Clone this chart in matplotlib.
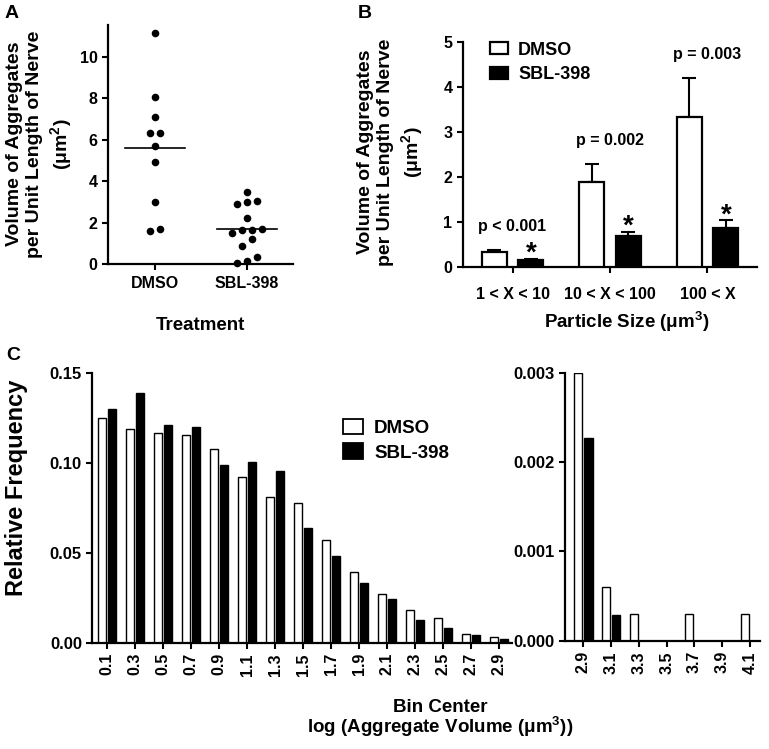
import numpy as np
import matplotlib
matplotlib.use('Agg')
import matplotlib.pyplot as plt
from matplotlib.patches import Patch

# ---------------- data ----------------
# Panel A
groups_a = ['DMSO', 'SBL-398']
dmso_vals = [11.14, 8.08, 7.08, 6.31, 6.33, 5.72, 4.93, 3.01, 1.60, 1.70]
sbl_vals = [3.46, 3.04, 2.90, 3.01, 2.24, 1.64, 1.51, 1.64, 1.69, 1.19, 0.87, 0.32, 0.06, 0.13]

# Panel B
size_cats = ['1 < X < 10', '10 < X < 100', '100 < X']
dmso_mean = [0.35, 1.90, 3.34]
dmso_sem = [0.03, 0.39, 0.85]
sbl_mean = [0.17, 0.69, 0.86]
sbl_sem = [0.02, 0.10, 0.19]
p_labels = ['p < 0.001', 'p = 0.002', 'p = 0.003']

# Panel C (left)
bins_left = ['0.1', '0.3', '0.5', '0.7', '0.9', '1.1', '1.3', '1.5', '1.7', '1.9',
             '2.1', '2.3', '2.5', '2.7', '2.9']
dmso_freq_left = [0.1250, 0.1190, 0.1167, 0.1152, 0.1074, 0.0920, 0.0810, 0.0777,
                  0.0572, 0.0394, 0.0268, 0.0184, 0.0136, 0.0050, 0.0030]
sbl_freq_left = [0.1300, 0.1390, 0.1210, 0.1197, 0.0989, 0.1006, 0.0953, 0.0638,
                 0.0480, 0.0333, 0.0243, 0.0125, 0.0082, 0.0041, 0.0022]
# Panel C (right)
bins_right = ['2.9', '3.1', '3.3', '3.5', '3.7', '3.9', '4.1']
dmso_freq_right = [0.00300, 0.00060, 0.00030, 0.0, 0.00030, 0.0, 0.00030]
sbl_freq_right = [0.00227, 0.00029, 0.0, 0.0, 0.0, 0.0, 0.0]

# ---------------- style ----------------
plt.rcParams['font.family'] = ['Liberation Sans', 'DejaVu Sans']
plt.rcParams['font.weight'] = 'bold'
plt.rcParams['axes.labelweight'] = 'bold'
plt.rcParams['mathtext.fontset'] = 'custom'
plt.rcParams['mathtext.rm'] = 'Liberation Sans:bold'
plt.rcParams['mathtext.bf'] = 'Liberation Sans:bold'
plt.rcParams['mathtext.it'] = 'Liberation Sans:bold'
plt.rcParams['mathtext.default'] = 'rm'

W, H = 769, 749
fig = plt.figure(figsize=(W / 100, H / 100), dpi=100)


def ax_px(l, t, r, b):
    return fig.add_axes([l / W, 1 - b / H, (r - l) / W, (b - t) / H])


def style(ax, fs=11.5):
    for s in ['top', 'right']:
        ax.spines[s].set_visible(False)
    for s in ['left', 'bottom']:
        ax.spines[s].set_linewidth(1.6)
    ax.tick_params(direction='out', length=4.5, width=1.5, labelsize=fs, pad=3)
    for lab in ax.get_xticklabels() + ax.get_yticklabels():
        lab.set_fontweight('bold')


def ftext(x, y, s, **kw):
    kw.setdefault('ha', 'center')
    kw.setdefault('va', 'center')
    kw.setdefault('fontweight', 'bold')
    fig.text(x / W, 1 - y / H, s, **kw)


def swarm(vals, center, ppu_y, ppu_x, row_px=7.5, step_px=10.0):
    vals = np.asarray(vals)
    order = np.argsort(vals)
    xs = np.zeros(len(vals))
    rows, cur = [], []
    for i in order:
        if cur and (vals[i] - vals[cur[0]]) * ppu_y > row_px:
            rows.append(cur)
            cur = []
        cur.append(i)
    rows.append(cur)
    for r in rows:
        n = len(r)
        for k, i in enumerate(r):
            xs[i] = center + (k - (n - 1) / 2) * step_px / ppu_x
    return xs


# ---------------- Panel A ----------------
axA = ax_px(108, 25, 293, 264)
axA.set_xlim(-0.511, 1.5)
axA.set_ylim(0, 11.55)
ppu_y = 239 / 11.55
ppu_x = 185 / 2.011
for gi, vals in enumerate([dmso_vals, sbl_vals]):
    xs = swarm(vals, gi, ppu_y, ppu_x)
    axA.scatter(xs, vals, s=30, color='black', zorder=3, clip_on=False, linewidths=0)
    m = np.mean(vals)
    axA.plot([gi - 0.33, gi + 0.33], [m, m], color='black', lw=1.2, zorder=2)
axA.set_xticks([0, 1])
axA.set_xticklabels(groups_a)
axA.set_yticks([0, 2, 4, 6, 8, 10])
style(axA)
axA.tick_params(axis='x', pad=4.5)

ftext(12, 13, 'A', fontsize=14)
ftext(200, 325, 'Treatment', fontsize=13.5)
ftext(40, 144, 'Volume of Aggregates\nper Unit Length of Nerve\n(μm$^2$)',
      rotation=90, fontsize=14, linespacing=1.25)

# ---------------- Panel B ----------------
axB = ax_px(462.7, 41.7, 756.7, 267.3)
axB.set_xlim(-0.511, 2.505)
axB.set_ylim(0, 5)
xb = np.arange(len(size_cats))
bw = 0.256
off = 0.188
axB.bar(xb - off, dmso_mean, bw, color='white', edgecolor='black', linewidth=1.6, zorder=3)
axB.bar(xb + off, sbl_mean, bw, color='black', edgecolor='black', linewidth=1.6, zorder=3)
axB.errorbar(xb - off, dmso_mean, yerr=[np.zeros(3), dmso_sem], fmt='none',
             ecolor='black', elinewidth=1.5, capsize=4.7, capthick=1.5, zorder=2)
axB.errorbar(xb + off, sbl_mean, yerr=[np.zeros(3), sbl_sem], fmt='none',
             ecolor='black', elinewidth=1.5, capsize=4.7, capthick=1.5, zorder=2)
for i in range(3):
    top_d = dmso_mean[i] + dmso_sem[i]
    top_s = sbl_mean[i] + sbl_sem[i]
    axB.text(xb[i], top_d + 0.43, p_labels[i], ha='center', va='baseline',
             fontsize=11.5, fontweight='bold')
    axB.text(xb[i] + off, top_s - 0.05, '*', ha='center', va='baseline',
             fontsize=20, fontweight='bold')
axB.set_xticks(xb)
axB.set_xticklabels(size_cats)
axB.set_yticks([0, 1, 2, 3, 4, 5])
style(axB)
axB.tick_params(axis='x', pad=9.5)
handlesB = [Patch(facecolor='white', edgecolor='black', linewidth=1.6, label='DMSO'),
            Patch(facecolor='black', edgecolor='black', linewidth=1.6, label='SBL-398')]
axB.legend(handles=handlesB, loc='upper left', bbox_to_anchor=(0.093, 1.0),
           frameon=False, borderpad=0, borderaxespad=0,
           handlelength=1.0, handleheight=0.65, handletextpad=0.55, labelspacing=0.4,
           prop={'weight': 'bold', 'size': 13})

ftext(365, 13, 'B', fontsize=14)
ftext(627, 322, 'Particle Size (μm$^3$)', fontsize=13.5)
ftext(391, 152, 'Volume of Aggregates\nper Unit Length of Nerve\n(μm$^2$)',
      rotation=90, fontsize=14, linespacing=1.25)

# ---------------- Panel C ----------------
axC1 = ax_px(92.3, 372.7, 511.7, 642.7)
axC1.set_xlim(-0.525, 14.45)
axC1.set_ylim(0, 0.15)
xc = np.arange(len(bins_left))
cw = 0.29
coff = 0.185
axC1.bar(xc - coff, dmso_freq_left, cw, color='white', edgecolor='black', linewidth=1.0)
axC1.bar(xc + coff, sbl_freq_left, cw, color='black', edgecolor='black', linewidth=1.0)
axC1.set_xticks(xc)
axC1.set_xticklabels(bins_left, rotation=90)
axC1.set_yticks([0, 0.05, 0.10, 0.15])
axC1.set_yticklabels(['0.00', '0.05', '0.10', '0.15'])
style(axC1, fs=11.5)
axC1.tick_params(axis='y', labelsize=12)
handlesC = [Patch(facecolor='white', edgecolor='black', linewidth=1.3, label='DMSO'),
            Patch(facecolor='black', edgecolor='black', linewidth=1.3, label='SBL-398')]
axC1.legend(handles=handlesC, loc='upper left', bbox_to_anchor=(0.598, 0.83),
            frameon=False, borderpad=0, borderaxespad=0,
            handlelength=1.05, handleheight=0.9, handletextpad=0.6, labelspacing=0.35,
            prop={'weight': 'bold', 'size': 13.5})

axC2 = ax_px(565, 372.7, 760, 640.7)
axC2.set_xlim(-0.66, 6.36)
axC2.set_ylim(0, 0.003)
xr = np.arange(len(bins_right))
axC2.bar(xr - coff, dmso_freq_right, cw, color='white', edgecolor='black', linewidth=1.0)
axC2.bar(xr + coff, sbl_freq_right, cw, color='black', edgecolor='black', linewidth=1.0)
axC2.set_xticks(xr)
axC2.set_xticklabels(bins_right, rotation=90)
axC2.set_yticks([0, 0.001, 0.002, 0.003])
axC2.set_yticklabels(['0.000', '0.001', '0.002', '0.003'])
style(axC2, fs=11.5)
axC2.tick_params(axis='y', labelsize=12)

ftext(13, 355, 'C', fontsize=14)
ftext(17, 488, 'Relative Frequency', rotation=90, fontsize=17)
ftext(440, 707, 'Bin Center', fontsize=13.5)
ftext(440, 727, 'log (Aggregate Volume (μm$^3$))', fontsize=13.5)

fig.savefig('out.png', dpi=100)
